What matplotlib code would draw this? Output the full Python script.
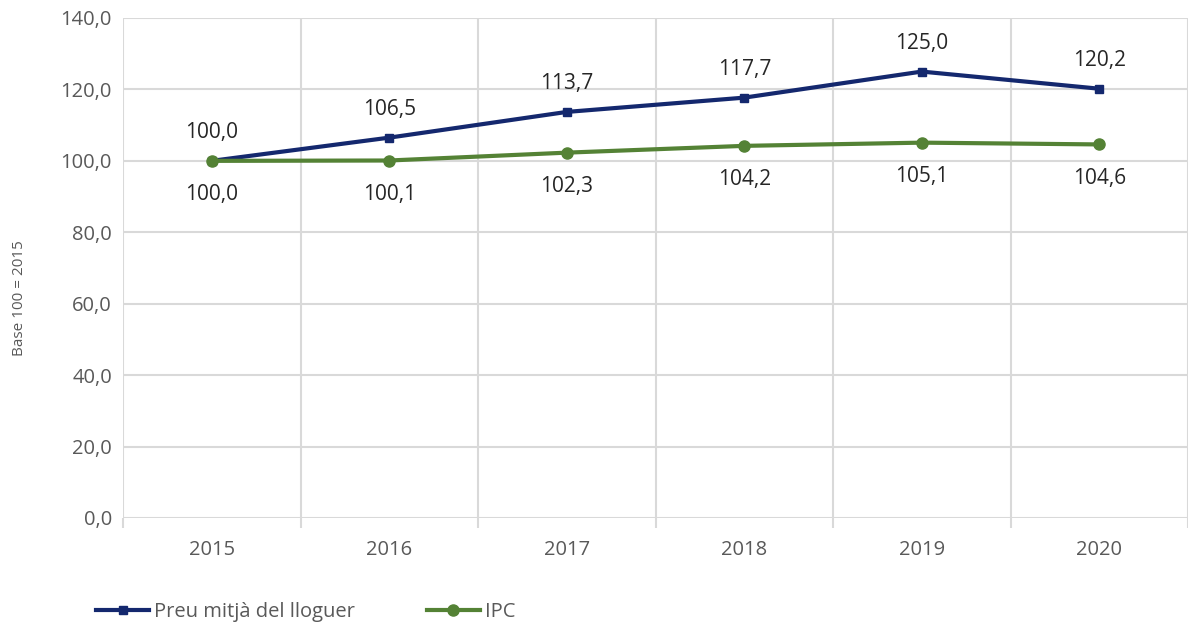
import matplotlib.pyplot as plt

years = ["2015", "2016", "2017", "2018", "2019", "2020"]
lloguer = [100.0, 106.5, 113.7, 117.7, 125.0, 120.2]
ipc = [100.0, 100.1, 102.3, 104.2, 105.1, 104.6]

navy = '#14286e'
green = '#548235'
grid = '#d9d9d9'

plt.rcParams['font.family'] = ['Open Sans', 'DejaVu Sans']

def fmt(v):
    return f"{v:.1f}".replace(".", ",")

fig = plt.figure(figsize=(11.88, 6.25), dpi=100)
ax = fig.add_axes([123 / 1188, 107 / 625, 1 - 123 / 1188, 500 / 625])

x = list(range(len(years)))
ax.plot(x, lloguer, color=navy, linewidth=3, marker='s', markersize=6,
        label='Preu mitjà del lloguer', zorder=3)
ax.plot(x, ipc, color=green, linewidth=3, marker='o', markersize=8,
        label='IPC', zorder=3)

# data labels
for i, v in enumerate(lloguer):
    ax.annotate(fmt(v), (i, v), xytext=(0, 13), textcoords='offset points',
                ha='center', va='bottom', fontsize=15, color='#262626')
for i, v in enumerate(ipc):
    ax.annotate(fmt(v), (i, v), xytext=(0, -17), textcoords='offset points',
                ha='center', va='top', fontsize=15, color='#262626')

ax.set_xlim(-0.5, 5.5)
ax.set_ylim(0, 140)
ax.set_yticks(range(0, 141, 20))
ax.set_yticklabels([fmt(v) for v in range(0, 141, 20)])
ax.set_xticks(x)
ax.set_xticklabels(years)
ax.set_xticks([i + 0.5 for i in range(-1, len(years))], minor=True)

ax.grid(axis='y', color=grid, linewidth=1.5)
ax.grid(axis='x', which='minor', color=grid, linewidth=1.5)
ax.set_axisbelow(True)
for s in ax.spines.values():
    s.set_visible(False)
ax.tick_params(axis='y', length=0, pad=8, labelsize=14.5, labelcolor='#595959')
ax.tick_params(axis='x', which='major', length=0, pad=16, labelsize=14.5, labelcolor='#595959')
ax.tick_params(axis='x', which='minor', length=7, width=1.5, color=grid)

ax.set_ylabel('Base 100 = 2015', fontsize=11, color='#595959')
ax.yaxis.set_label_coords(-0.0905, 0.44)

ax.legend(loc='lower left', bbox_to_anchor=(-0.042, -0.245), ncol=2, frameon=False,
          fontsize=14.5, labelcolor='#595959', handlelength=2.6, columnspacing=3.6,
          handletextpad=0.25)

fig.savefig('out.png', dpi=100)
